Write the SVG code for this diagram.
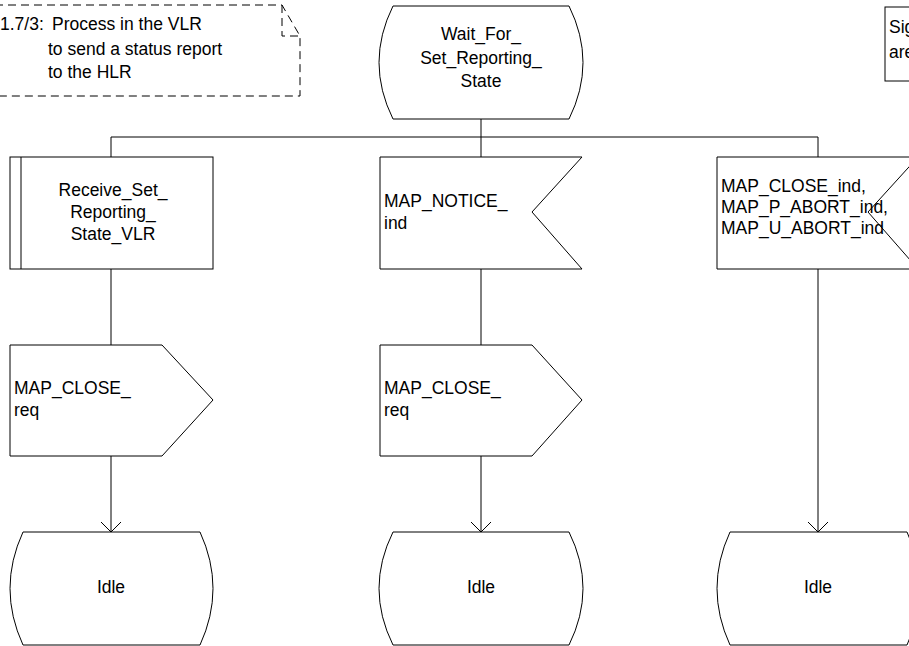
<svg xmlns="http://www.w3.org/2000/svg" width="909" height="646" viewBox="0 0 909 646">
<style>
  .sh { fill: #fff; stroke: #000; stroke-width: 1; }
  .ln { fill: none; stroke: #000; stroke-width: 1; }
  .dash { fill: none; stroke: #000; stroke-width: 1; stroke-dasharray: 8 5; }
  text { font-family: "Liberation Sans", Arial, sans-serif; font-size: 17.5px; fill: #000; }
  .c { text-anchor: middle; }
</style>
<defs>
  <marker id="arr" markerWidth="12" markerHeight="22" refX="11" refY="11" orient="auto" markerUnits="userSpaceOnUse" viewBox="0 0 12 22">
    <path d="M1,1 L11,11 L1,21" fill="none" stroke="#000" stroke-width="1"/>
  </marker>
</defs>
<rect width="909" height="646" fill="#fff"/>

<g id="comment">
  <path class="dash" d="M-5,5 L282,5 L300,36 L300,96 L-5,96"/>
  <path class="dash" d="M282,5 L282,36 L300,36"/>
  <text><tspan x="0" y="30">1.7/3:</tspan><tspan x="52" y="30">Process in the VLR</tspan><tspan x="48" y="55">to send a status report</tspan><tspan x="48" y="78">to the HLR</tspan></text>
</g>

<g id="signal-note">
  <rect class="sh" x="885" y="7" width="40" height="74"/>
  <text x="889" y="33">Sig</text>
  <text x="889" y="58">are</text>
</g>

<g id="connectors">
  <path class="ln" d="M481,119 L481,157"/>
  <path class="ln" d="M111,137 L818,137"/>
  <path class="ln" d="M111,137 L111,157"/>
  <path class="ln" d="M818,137 L818,157"/>
  <path class="ln" d="M111,269 L111,345"/>
  <path class="ln" d="M481,269 L481,345"/>
  <path class="ln" d="M111,456 L111,532" marker-end="url(#arr)"/>
  <path class="ln" d="M481,456 L481,532" marker-end="url(#arr)"/>
  <path class="ln" d="M818,269 L818,532" marker-end="url(#arr)"/>
</g>

<g id="state-wait">
  <path class="sh" d="M393,6 L569,6 Q597,62.5 569,119 L393,119 Q365,62.5 393,6 Z"/>
  <text class="c" x="481" y="40">Wait_For_</text>
  <text class="c" x="481" y="64">Set_Reporting_</text>
  <text class="c" x="481" y="87">State</text>
</g>

<g id="proc-receive">
  <rect class="sh" x="10" y="157" width="203" height="112"/>
  <path class="ln" d="M21,157 L21,269"/>
  <text class="c" x="113" y="196">Receive_Set_</text>
  <text class="c" x="113" y="218">Reporting_</text>
  <text class="c" x="113" y="240">State_VLR</text>
</g>

<g id="input-notice">
  <path class="sh" d="M380,157 L582,157 L532,212 L582,269 L380,269 Z"/>
  <text x="384" y="207">MAP_NOTICE_</text>
  <text x="384" y="229">ind</text>
</g>

<g id="input-close-abort">
  <path class="sh" d="M717,157 L918,157 L868,212 L918,269 L717,269 Z"/>
  <text x="721" y="192">MAP_CLOSE_ind,</text>
  <text x="721" y="213">MAP_P_ABORT_ind,</text>
  <text x="721" y="234">MAP_U_ABORT_ind</text>
</g>

<g id="output-close-left">
  <path class="sh" d="M10,345 L162,345 L213,400 L162,456 L10,456 Z"/>
  <text x="14" y="394">MAP_CLOSE_</text>
  <text x="14" y="416">req</text>
</g>

<g id="output-close-mid">
  <path class="sh" d="M380,345 L532,345 L582,400 L532,456 L380,456 Z"/>
  <text x="384" y="394">MAP_CLOSE_</text>
  <text x="384" y="416">req</text>
</g>

<g id="idle-left">
  <path class="sh" d="M23,532 L200,532 Q226,588.5 200,645 L23,645 Q-3,588.5 23,532 Z"/>
  <text class="c" x="111" y="593">Idle</text>
</g>

<g id="idle-mid">
  <path class="sh" d="M393,532 L569,532 Q597,588.5 569,645 L393,645 Q365,588.5 393,532 Z"/>
  <text class="c" x="481" y="593">Idle</text>
</g>

<g id="idle-right">
  <path class="sh" d="M730,532 L907,532 Q933,588.5 907,645 L730,645 Q704,588.5 730,532 Z"/>
  <text class="c" x="818" y="593">Idle</text>
</g>
</svg>
